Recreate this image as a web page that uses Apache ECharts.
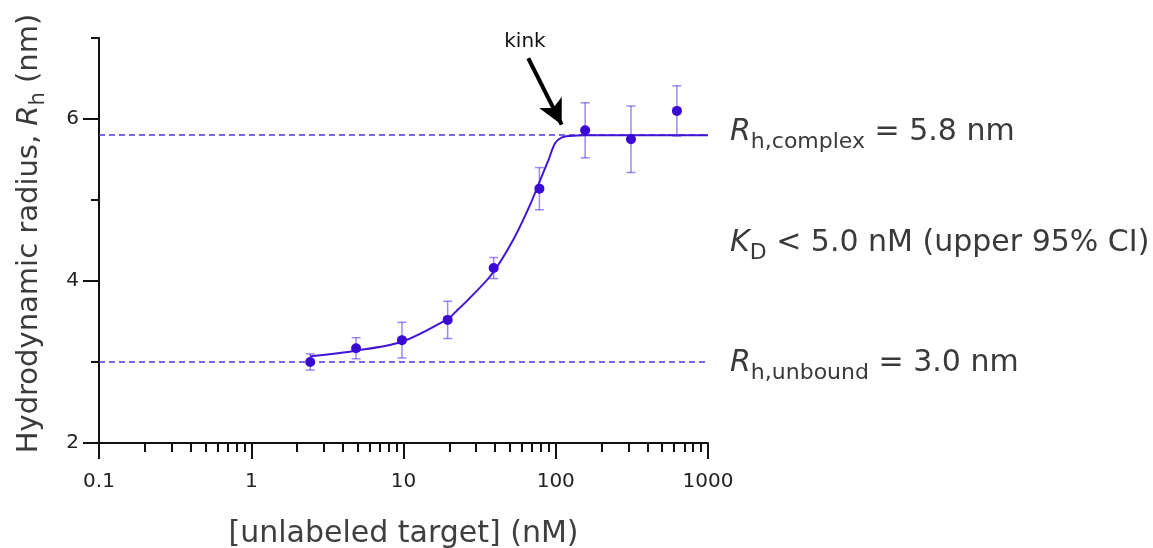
<!DOCTYPE html>
<html>
<head>
<meta charset="utf-8">
<script src="https://cdn.jsdelivr.net/npm/echarts@6/dist/echarts.min.js"></script>
<style>
  html, body { margin: 0; padding: 0; background: #fff; }
  #chart { width: 1153px; height: 548px; }
</style>
</head>
<body>
<div id="chart"></div>
<script>
// Titration: ligand concentration (nM) vs measured hydrodynamic radius (nm)
const conc = [2.44, 4.88, 9.77, 19.5, 39.1, 78.1, 156, 312, 625];
const rhMean = [3.00, 3.17, 3.27, 3.52, 4.16, 5.14, 5.86, 5.75, 6.10];
const rhErr = [0.10, 0.13, 0.22, 0.23, 0.13, 0.26, 0.34, 0.41, 0.31];

// Binding fit curve
const fitConc = [2.44, 4.88, 9.77, 19.5, 22.3, 26.6, 37.9, 52.6, 67.8, 78.8, 89.4, 98.9, 109, 124, 156, 312, 625, 1000];
const fitRh = [3.07, 3.14, 3.25, 3.53, 3.63, 3.77, 4.08, 4.51, 4.94, 5.24, 5.49, 5.70, 5.77, 5.79, 5.80, 5.80, 5.80, 5.80];

// Plateau levels
const rhComplex = 5.8;
const rhUnbound = 3.0;
const kdUpper = 5.0;

// Axis ticks
const xTickValues = [0.1, 1, 10, 100, 1000];
const xTickLabels = ['0.1', '1', '10', '100', '1000'];
const yTickValues = [2, 4, 6];

const FONT = 'DejaVu Sans';
const PURPLE = '#4015D8';
const DOT = '#3A0AD4';
const BAR = 'rgba(76, 40, 222, 0.55)';
const DASH = '#5433E0';

// minor ticks at 2..9 within each decade
const xMinor = [];
for (let d = 0; d < xTickValues.length - 1; d++) {
  for (let k = 2; k <= 9; k++) xMinor.push(+(k * xTickValues[d]).toPrecision(6));
}

function xLabel(v) {
  const i = xTickValues.findIndex(t => Math.abs(Math.log10(t) - Math.log10(v)) < 1e-6);
  return i >= 0 ? xTickLabels[i] : '';
}

function richSet(size, sub, lh) {
  return {
    i: { fontFamily: FONT, fontSize: size, fontStyle: 'italic', color: '#3a3a3a', lineHeight: lh },
    s: { fontFamily: FONT, fontSize: sub, color: '#3a3a3a', lineHeight: sub, verticalAlign: 'bottom' },
    n: { fontFamily: FONT, fontSize: size, color: '#3a3a3a', lineHeight: lh }
  };
}

function sideLabel(y, text, dy) {
  return {
    coord: [xTickValues[xTickValues.length - 1], y],
    symbol: 'circle', symbolSize: 0,
    label: { show: true, position: 'right', distance: 22, offset: [0, dy], formatter: text, rich: richSet(30, 22, 42) }
  };
}

const chart = echarts.init(document.getElementById('chart'));
chart.setOption({
  animation: false,
  backgroundColor: '#ffffff',
  grid: { left: 99, right: 445, top: 38, bottom: 105, outerBoundsMode: 'none' },
  xAxis: [
    {
      type: 'log', logBase: 10, min: 0.1, max: 1000, position: 'bottom',
      axisLine: { show: true, lineStyle: { color: '#111', width: 2 } },
      axisTick: { show: true, length: 16, customValues: xTickValues, lineStyle: { color: '#111', width: 2 } },
      axisLabel: { show: true, customValues: xTickValues, formatter: xLabel, margin: 29, fontFamily: FONT, fontSize: 20, color: '#222' },
      splitLine: { show: false },
      name: '[unlabeled target] (nM)', nameLocation: 'middle', nameGap: 76,
      nameTextStyle: { fontFamily: FONT, fontSize: 30, color: '#3f3f3f' }
    },
    {
      type: 'log', logBase: 10, min: 0.1, max: 1000, position: 'bottom',
      axisLine: { show: false },
      axisTick: { show: true, length: 9, customValues: xMinor, lineStyle: { color: '#111', width: 2 } },
      axisLabel: { show: false },
      splitLine: { show: false }
    }
  ],
  yAxis: [
    {
      type: 'value', min: 2, max: 7, interval: 1, position: 'left',
      axisLine: { show: true, lineStyle: { color: '#111', width: 2 } },
      axisTick: { show: true, length: 8, lineStyle: { color: '#111', width: 2 } },
      axisLabel: { show: false },
      splitLine: { show: false },
      name: '{n|Hydrodynamic radius, }{i|R}{s|h}{n| (nm)}',
      nameLocation: 'middle', nameRotate: 90, nameGap: 50,
      nameTextStyle: { rich: richSet(29, 21, 40), padding: [0, 0, 0, 14] }
    },
    {
      type: 'value', min: 2, max: 7, interval: 1, position: 'left',
      axisLine: { show: false },
      axisTick: { show: true, length: 16, customValues: yTickValues, lineStyle: { color: '#111', width: 2 } },
      axisLabel: { show: true, customValues: yTickValues, margin: 20, fontFamily: FONT, fontSize: 20, color: '#222' },
      splitLine: { show: false }
    }
  ],
  series: [
    {
      name: 'fit', type: 'line', xAxisIndex: 0, yAxisIndex: 0, clip: false,
      data: fitConc.map((c, i) => [c, fitRh[i]]),
      showSymbol: false, smooth: 0.3, z: 3,
      lineStyle: { color: PURPLE, width: 2 },
      markLine: {
        silent: true, symbol: ['none', 'none'], z: 1,
        label: { show: false },
        lineStyle: { color: DASH, width: 1.5, type: [6, 4] },
        data: [
          [{ coord: [xTickValues[0], rhComplex] }, { coord: [xTickValues[4], rhComplex] }],
          [{ coord: [xTickValues[0], rhUnbound] }, { coord: [xTickValues[4], rhUnbound] }],
          [
            { coord: [66.0, 6.75], symbol: 'none', lineStyle: { color: '#000', width: 4, type: 'solid' } },
            { coord: [109.4, 5.93], symbol: 'arrow', symbolSize: [19, 25] }
          ]
        ]
      },
      markPoint: {
        silent: true,
        data: [
          sideLabel(rhComplex, '{i|R}{s|h,complex}{n| = ' + rhComplex.toFixed(1) + ' nm}', -3),
          sideLabel(4.48, '{i|K}{s|D}{n| < ' + kdUpper.toFixed(1) + ' nM (upper 95% CI)}', 1),
          sideLabel(rhUnbound, '{i|R}{s|h,unbound}{n| = ' + rhUnbound.toFixed(1) + ' nm}', 1),
          {
            coord: [62.8, 6.95], symbol: 'circle', symbolSize: 0,
            label: { show: true, position: 'inside', formatter: 'kink', fontFamily: FONT, fontSize: 20, color: '#111' }
          }
        ]
      }
    },
    {
      name: 'error', type: 'custom', xAxisIndex: 0, yAxisIndex: 0, z: 2,
      data: conc.map((c, i) => [c, rhMean[i], rhErr[i]]),
      encode: { x: 0, y: 1 },
      renderItem: function (params, api) {
        const x = api.value(0), y = api.value(1), e = api.value(2);
        const hi = api.coord([x, y + e]);
        const lo = api.coord([x, y - e]);
        const hw = 4.5;
        const st = { stroke: BAR, lineWidth: 1.5 };
        return {
          type: 'group',
          children: [
            { type: 'line', shape: { x1: hi[0], y1: hi[1], x2: lo[0], y2: lo[1] }, style: st },
            { type: 'line', shape: { x1: hi[0] - hw, y1: hi[1], x2: hi[0] + hw, y2: hi[1] }, style: st },
            { type: 'line', shape: { x1: lo[0] - hw, y1: lo[1], x2: lo[0] + hw, y2: lo[1] }, style: st }
          ]
        };
      }
    },
    {
      name: 'mean', type: 'scatter', xAxisIndex: 0, yAxisIndex: 0, z: 4,
      data: conc.map((c, i) => [c, rhMean[i]]),
      symbol: 'circle', symbolSize: 10,
      itemStyle: { color: DOT, opacity: 1 }
    }
  ]
});
</script>
</body>
</html>
